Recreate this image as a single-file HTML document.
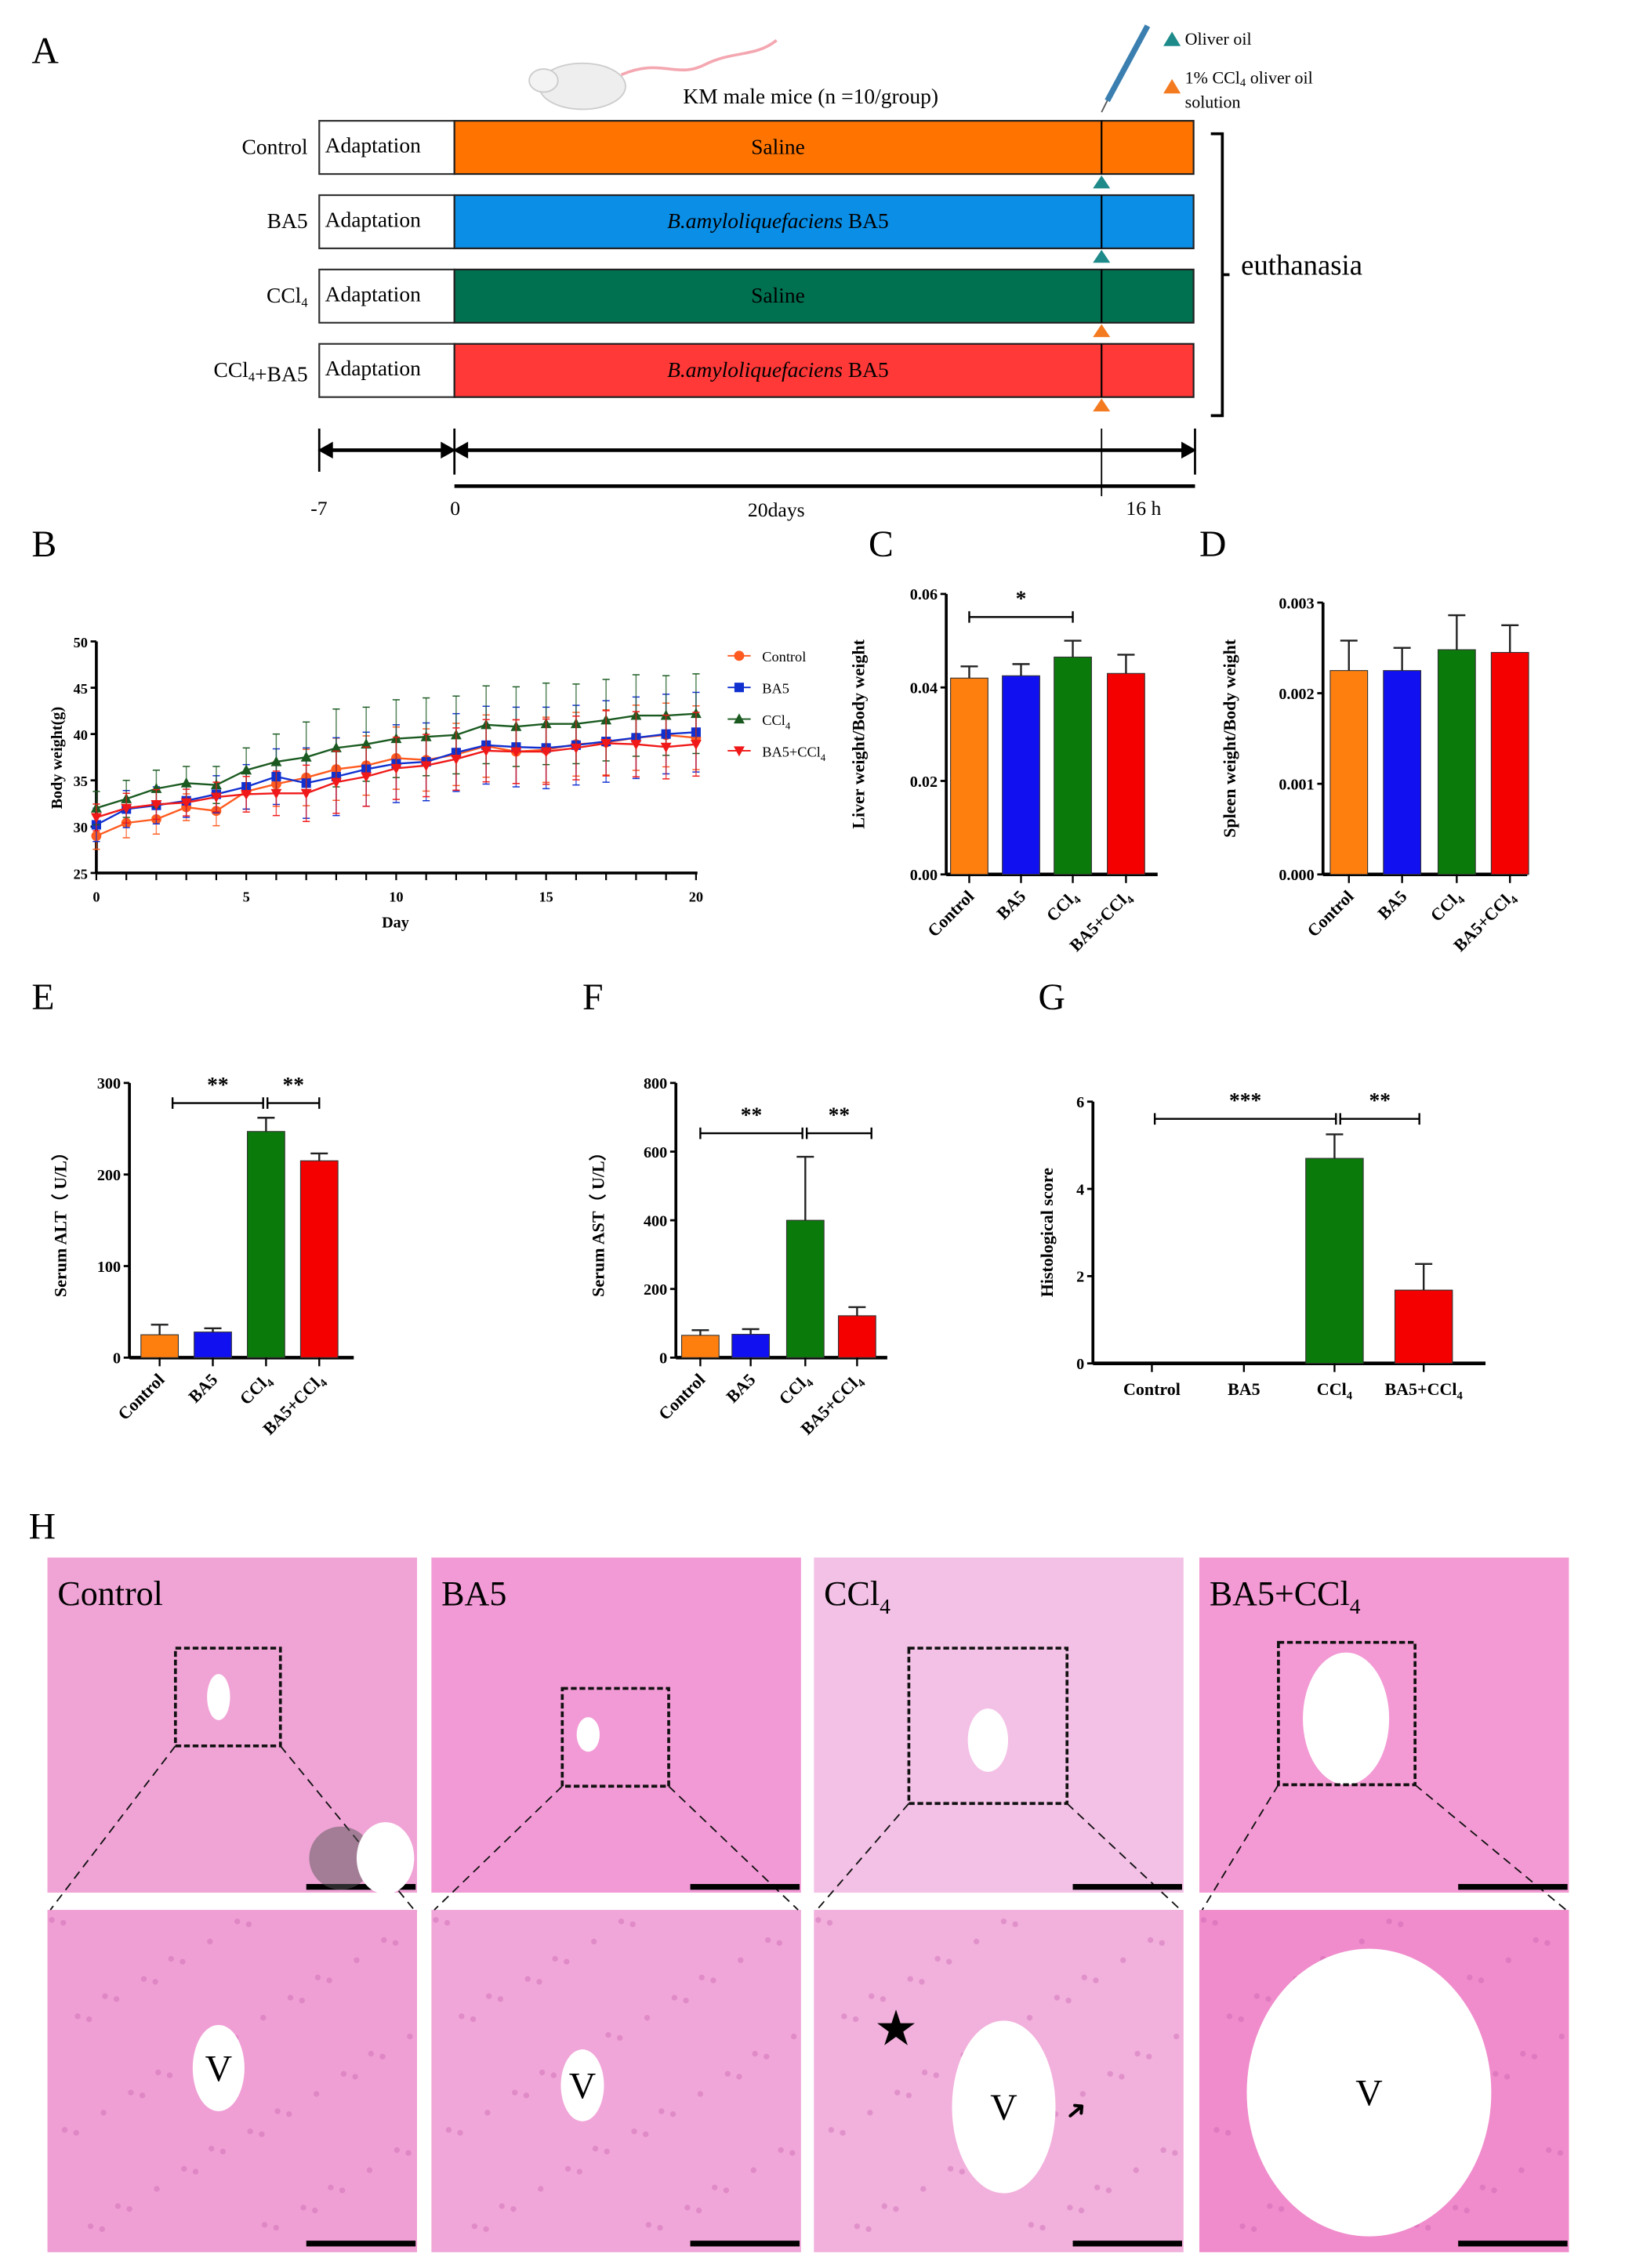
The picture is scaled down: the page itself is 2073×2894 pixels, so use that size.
<!DOCTYPE html>
<html><head><meta charset="utf-8"><style>
html,body{margin:0;padding:0;background:#fff;}
svg{display:block;font-family:"Liberation Serif",serif;}
</style></head><body>
<svg id="fig" width="2073" height="2894" viewBox="0 0 1130 1577" preserveAspectRatio="none" xmlns="http://www.w3.org/2000/svg">
<rect width="1130" height="1577" fill="#fff"/>
<!-- Panel A -->
<g>
<text x="22" y="44" font-size="26">A</text>
<g>
<ellipse cx="405" cy="60" rx="30" ry="16" fill="#eee" stroke="#ccc"/>
<ellipse cx="378" cy="56" rx="10" ry="8" fill="#f3f3f3" stroke="#ccc"/>
<path d="M432 52 C460 40 470 55 490 45 S525 40 540 28" stroke="#f4a7b0" stroke-width="2" fill="none"/>
</g>
<text x="475" y="72" font-size="15">KM male mice (n =10/group)</text>
<g>
<line x1="770" y1="70" x2="798" y2="18" stroke="#3a7fb0" stroke-width="4"/>
<line x1="770" y1="70" x2="766" y2="78" stroke="#555" stroke-width="1"/>
</g>
<polygon points="809,32 815,22 821,32" fill="#1f8a8a"/>
<text x="824" y="31" font-size="12">Oliver oil</text>
<polygon points="809,65 815,55 821,65" fill="#f47a20"/>
<text x="824" y="58" font-size="12">1% CCl<tspan font-size="8" dy="2">4</tspan><tspan dy="-2"> oliver oil</tspan></text>
<text x="824" y="75" font-size="12">solution</text>
<g id="groups"></g>
<path d="M842 93 H850 V289 H842" stroke="#000" stroke-width="2" fill="none"/>
<line x1="850" y1="191" x2="855" y2="191" stroke="#000" stroke-width="2"/>
<text x="863" y="191" font-size="20">euthanasia</text>
<g stroke="#000">
<line x1="222" y1="298" x2="222" y2="328" stroke-width="1.5"/>
<line x1="316" y1="298" x2="316" y2="330" stroke-width="1.5"/>
<line x1="831" y1="298" x2="831" y2="330" stroke-width="1.5"/>
<line x1="766" y1="298" x2="766" y2="345" stroke-width="1"/>
<line x1="225" y1="313" x2="313" y2="313" stroke-width="2.5"/>
<line x1="319" y1="313" x2="828" y2="313" stroke-width="2.5"/>
<line x1="316" y1="338" x2="831" y2="338" stroke-width="2.5"/>
<polygon points="222,313 231,308 231,318" fill="#000"/><polygon points="316,313 307,308 307,318" fill="#000"/>
<polygon points="316,313 325,308 325,318" fill="#000"/><polygon points="831,313 822,308 822,318" fill="#000"/>
</g>
<text x="216" y="358" font-size="14">-7</text>
<text x="313" y="358" font-size="14">0</text>
<text x="520" y="359" font-size="14">20days</text>
<text x="783" y="358" font-size="14">16 h</text>
</g>
<text x="22" y="387" font-size="26">B</text>
<text x="604" y="387" font-size="26">C</text>
<text x="834" y="387" font-size="26">D</text>
<text x="22" y="702" font-size="26">E</text>
<text x="405" y="702" font-size="26">F</text>
<text x="722" y="702" font-size="26">G</text>
<text x="20" y="1070" font-size="26">H</text>
<g id="lineB"></g>
<g id="barC"></g><g id="barD"></g><g id="barE"></g><g id="barF"></g><g id="barG"></g>
<g id="histo"></g>
</svg>
<script>
const NS="http://www.w3.org/2000/svg";
function mk(parent,tag,attrs,txt){const e=document.createElementNS(NS,tag);for(const k in attrs)e.setAttribute(k,attrs[k]);if(txt!==undefined)e.textContent=txt;parent.appendChild(e);return e;}

// Panel A groups
const aGroups=["Control","BA5","CCl4","CCl4+BA5"];
const aTreat=["Saline","B.amyloliquefaciens BA5","Saline","B.amyloliquefaciens BA5"];
const aColors=["#ff7400","#0a8ee6","#007150","#ff3838"];
const aTri=["#1f8a8a","#1f8a8a","#f47a20","#f47a20"];
const G=document.getElementById("groups");
aGroups.forEach((g,i)=>{
 const y=84+i*51.7;
 const row=mk(G,"g",{});
 
 
 const lab=mk(row,"text",{x:214,y:y+23,"font-size":15,"text-anchor":"end"});
 if(g.includes("CCl4")){lab.innerHTML=g.replace("CCl4","CCl<tspan font-size='9' dy='3'>4</tspan><tspan dy='-3'></tspan>");}else lab.textContent=g;
 mk(row,"rect",{x:222,y:y,width:94,height:37,fill:"#fff",stroke:"#333","stroke-width":1.2});
 mk(row,"text",{x:226,y:y+22,"font-size":15},"Adaptation");
 mk(row,"rect",{x:316,y:y,width:514,height:37,fill:aColors[i],stroke:"#222","stroke-width":1.2});
 mk(row,"line",{x1:766,y1:y,x2:766,y2:y+37,stroke:"#000","stroke-width":1.2});
 const t=mk(row,"text",{x:541,y:y+23,"font-size":15,"text-anchor":"middle"});
 if(aTreat[i].startsWith("B.")) t.innerHTML="<tspan font-style='italic'>B.amyloliquefaciens</tspan> BA5"; else t.textContent=aTreat[i];
 mk(row,"polygon",{points:`${760},${y+47} ${766},${y+38} ${772},${y+47}`,fill:aTri[i]});
});

// Panel B line chart
const bDays=[0,1,2,3,4,5,6,7,8,9,10,11,12,13,14,15,16,17,18,19,20];
const bControl=[29,30.4,30.8,32.1,31.7,33.8,34.6,35.3,36.2,36.6,37.4,37.2,37.8,38.7,38.1,38.3,38.9,39.1,39.6,39.9,39.6];
const bBA5=[30.2,31.9,32.3,32.8,33.5,34.3,35.4,34.7,35.4,36.2,36.8,37.0,38.0,38.8,38.6,38.5,38.8,39.2,39.6,40.0,40.2];
const bCCl4=[32,33,34.1,34.7,34.5,36.1,37,37.5,38.5,38.9,39.5,39.7,39.9,41,40.8,41.1,41.1,41.5,42,42,42.2];
const bBA5CCl4=[31,32,32.4,32.6,33.2,33.5,33.6,33.6,34.8,35.4,36.3,36.6,37.3,38.2,38.1,38.1,38.5,39,38.9,38.6,38.9];
const bErr=[1.8,2.0,2.0,1.8,2.0,2.4,3.0,3.8,4.2,4.0,4.2,4.2,4.2,4.2,4.3,4.4,4.3,4.4,4.4,4.3,4.3];
const bYTicks=[25,30,35,40,45,50];
const bXTicks=[0,5,10,15,20];
const bx=d=>67+d*(417/20), by=v=>607-(v-25)*(161/25);
const B=document.getElementById("lineB");
mk(B,"line",{x1:67,y1:607,x2:485,y2:607,stroke:"#000","stroke-width":2});
mk(B,"line",{x1:67,y1:446,x2:67,y2:607,stroke:"#000","stroke-width":2});
bYTicks.forEach(t=>{mk(B,"line",{x1:63,y1:by(t),x2:67,y2:by(t),stroke:"#000","stroke-width":1.5});
 const e=mk(B,"text",{x:61,y:by(t)+4,"font-size":10,"font-weight":"bold","text-anchor":"end"},t);
 });
bDays.forEach(d=>mk(B,"line",{x1:bx(d),y1:607,x2:bx(d),y2:612,stroke:"#000","stroke-width":1.2}));
bXTicks.forEach(t=>{const e=mk(B,"text",{x:bx(t),y:627,"font-size":10,"font-weight":"bold","text-anchor":"middle"},t);
 });
{const e=mk(B,"text",{x:275,y:645,"font-size":11,"font-weight":"bold","text-anchor":"middle"},"Day");}
{const e=mk(B,"text",{x:43,y:527,"font-size":11,"font-weight":"bold","text-anchor":"middle",transform:"rotate(-90 43 527)"},"Body weight(g)");}
const bSeries=[["Control",bControl,"#ff5a1f","circle",0.8],["BA5",bBA5,"#1030d0","square",1.0],["CCl4",bCCl4,"#1a5a20","tri",1.0],["BA5+CCl4",bBA5CCl4,"#f01818","tridown",0.8]];
function marker(g,type,x,y,c){
 if(type==="circle")mk(g,"circle",{cx:x,cy:y,r:3.5,fill:c});
 else if(type==="square")mk(g,"rect",{x:x-3.3,y:y-3.3,width:6.6,height:6.6,fill:c});
 else if(type==="tri")mk(g,"polygon",{points:`${x-3.8},${y+3} ${x},${y-4} ${x+3.8},${y+3}`,fill:c});
 else mk(g,"polygon",{points:`${x-3.8},${y-3} ${x},${y+4} ${x+3.8},${y-3}`,fill:c});
}
bSeries.forEach((s,si)=>{
 const g=mk(B,"g",{});
 
 
 s[1].forEach((v,i)=>{const e=bErr[i]*s[4];const x=bx(bDays[i]);
  mk(g,"line",{x1:x,y1:by(v-e),x2:x,y2:by(v+e),stroke:s[2],"stroke-width":0.8,opacity:0.75});
  mk(g,"line",{x1:x-2.5,y1:by(v+e),x2:x+2.5,y2:by(v+e),stroke:s[2],"stroke-width":0.8});
  mk(g,"line",{x1:x-2.5,y1:by(v-e),x2:x+2.5,y2:by(v-e),stroke:s[2],"stroke-width":0.8});});
 mk(g,"polyline",{points:s[1].map((v,i)=>bx(bDays[i])+","+by(v)).join(" "),fill:"none",stroke:s[2],"stroke-width":1.3});
 s[1].forEach((v,i)=>marker(g,s[3],bx(bDays[i]),by(v),s[2]));
 const ly=456+si*22;
 const lg=mk(B,"g",{});
 
 
 mk(lg,"line",{x1:506,y1:ly,x2:522,y2:ly,stroke:s[2],"stroke-width":1});
 marker(lg,s[3],514,ly,s[2]);
 const t=mk(lg,"text",{x:530,y:ly+4,"font-size":10});
 if(s[0].includes("CCl4"))t.innerHTML=s[0].replace("CCl4","CCl<tspan font-size='7' dy='3'>4</tspan>");else t.textContent=s[0];
});

// Bar chart helper
function barChart(id,o){
 const g=document.getElementById(id);
 const y=v=>o.y0-(v/o.ymax)*(o.y0-o.ytop);
 mk(g,"line",{x1:o.ax,y1:o.ytop,x2:o.ax,y2:o.y0,stroke:"#000","stroke-width":2});
 mk(g,"line",{x1:o.ax,y1:o.y0,x2:o.ax2,y2:o.y0,stroke:"#000","stroke-width":2.5});
 o.ticks.forEach((t,i)=>{mk(g,"line",{x1:o.ax-4,y1:y(t),x2:o.ax,y2:y(t),stroke:"#000","stroke-width":1.5});
  const e=mk(g,"text",{x:o.ax-6,y:y(t)+4,"font-size":11,"font-weight":"bold","text-anchor":"end"},o.tickLabels[i]);
  });
 const yt=mk(g,"text",{x:o.ylx,y:(o.y0+o.ytop)/2,"font-size":12,"font-weight":"bold","text-anchor":"middle",transform:`rotate(-90 ${o.ylx} ${(o.y0+o.ytop)/2})`},o.ylabel);
 
 o.vals.forEach((v,i)=>{const cx=o.cx[i];
  const b=mk(g,"rect",{x:cx-o.bw/2,y:y(v),width:o.bw,height:o.y0-y(v),fill:o.colors[i],stroke:"#333","stroke-width":0.6});
  
  if(o.errs[i]>0){mk(g,"line",{x1:cx,y1:y(v),x2:cx,y2:y(v+o.errs[i]),stroke:"#222","stroke-width":1.3});
   mk(g,"line",{x1:cx-6,y1:y(v+o.errs[i]),x2:cx+6,y2:y(v+o.errs[i]),stroke:"#222","stroke-width":1.3});}
  mk(g,"line",{x1:cx,y1:o.y0,x2:cx,y2:o.y0+6,stroke:"#000","stroke-width":1.3});
  let lab=o.cats[i].replace("CCl4","CCl<tspan font-size='8' dy='3'>4</tspan>");
  const t=mk(g,"text",{"font-size":12,"font-weight":"bold"});
  if(o.rot){t.setAttribute("x",cx+4);t.setAttribute("y",o.y0+16);t.setAttribute("text-anchor","end");t.setAttribute("transform",`rotate(-45 ${cx+4} ${o.y0+16})`);}
  else{t.setAttribute("x",cx);t.setAttribute("y",o.y0+22);t.setAttribute("text-anchor","middle");}
  t.innerHTML=lab;
  
 });
 (o.sig||[]).forEach(s=>{const ly=s[3];
  mk(g,"line",{x1:s[0],y1:ly,x2:s[1],y2:ly,stroke:"#000","stroke-width":1.3});
  mk(g,"line",{x1:s[0],y1:ly-4,x2:s[0],y2:ly+4,stroke:"#000","stroke-width":1.3});
  mk(g,"line",{x1:s[1],y1:ly-4,x2:s[1],y2:ly+4,stroke:"#000","stroke-width":1.3});
  const e=mk(g,"text",{x:(s[0]+s[1])/2,y:ly-8,"font-size":15,"font-weight":"bold","text-anchor":"middle"},s[2]);
  });
}
const col4=["#ff7f0e","#1010f0","#0a7a0a","#f40000"];
const cCats=["Control","BA5","CCl4","BA5+CCl4"];
const cVals=[0.042,0.0425,0.0465,0.043];
const cErrs=[0.0025,0.0025,0.0035,0.004];
const cTicks=[0,0.02,0.04,0.06];
const cTickLabels=["0.00","0.02","0.04","0.06"];
barChart("barC",{ax:658,ax2:805,y0:608,ytop:413,ymax:0.06,ticks:cTicks,tickLabels:cTickLabels,ylabel:"Liver weight/Body weight",ylx:601,cats:cCats,vals:cVals,errs:cErrs,cx:[674,710,746,783],bw:26,colors:col4,rot:true,sig:[[674,746,"*",429]]});
const dVals=[0.00225,0.00225,0.00248,0.00245];
const dErrs=[0.00033,0.00025,0.00038,0.0003];
const dTicks=[0,0.001,0.002,0.003];
const dTickLabels=["0.000","0.001","0.002","0.003"];
barChart("barD",{ax:920,ax2:1062,y0:608,ytop:419,ymax:0.003,ticks:dTicks,tickLabels:dTickLabels,ylabel:"Spleen weight/Body weight",ylx:859,cats:cCats,vals:dVals,errs:dErrs,cx:[938,975,1013,1050],bw:26,colors:col4,rot:true});
const eVals=[25,28,247,215];
const eErrs=[11,4,15,8];
const eTicks=[0,100,200,300];
barChart("barE",{ax:90,ax2:246,y0:944,ytop:753,ymax:300,ticks:eTicks,tickLabels:eTicks,ylabel:"Serum ALT（ U/L）",ylx:46,cats:cCats,vals:eVals,errs:eErrs,cx:[111,148,185,222],bw:26,colors:col4,rot:true,sig:[[120,183,"**",767],[186,222,"**",767]]});
const fVals=[65,68,400,122];
const fErrs=[15,15,185,25];
const fTicks=[0,200,400,600,800];
barChart("barF",{ax:470,ax2:617,y0:944,ytop:753,ymax:800,ticks:fTicks,tickLabels:fTicks,ylabel:"Serum AST（ U/L）",ylx:420,cats:cCats,vals:fVals,errs:fErrs,cx:[487,522,560,596],bw:26,colors:col4,rot:true,sig:[[487,558,"**",788],[561,606,"**",788]]});
const gVals=[0,0,4.7,1.68];
const gErrs=[0,0,0.55,0.6];
const gTicks=[0,2,4,6];
barChart("barG",{ax:760,ax2:1033,y0:948,ytop:766,ymax:6,ticks:gTicks,tickLabels:gTicks,ylabel:"Histological score",ylx:732,cats:cCats,vals:gVals,errs:gErrs,cx:[801,865,928,990],bw:40,colors:col4,rot:false,sig:[[803,929,"***",778],[932,987,"**",778]]});

// Panel H histology
const hNames=["Control","BA5","CCl4","BA5+CCl4"];
const hX=[33,300,566,834];
const hTop=["#f0a4d6","#f29ad6","#f3c0e6","#f39ad4"];
const hBot=["#ef9fd4","#f0a6d8","#f2b0dc","#f08ccc"];
const hBox=[[122,1146,73,68],[391,1174,74,68],[632,1146,110,108],[889,1142,95,99]];
const hVein=[[152,1180,8,16],[409,1206,8,12],[687,1210,14,22],[936,1195,30,46]];
const hVeinB=[[152,1438,18,30],[405,1450,15,25],[698,1465,36,60],[952,1455,85,100]];
const H=document.getElementById("histo");
hNames.forEach((n,i)=>{
 const x=hX[i];
 const gp=mk(H,"g",{});
 
 
 mk(gp,"rect",{x:x,y:1083,width:257,height:233,fill:hTop[i]});
 mk(gp,"rect",{x:x,y:1328,width:257,height:238,fill:hBot[i]});
 for(let k=0;k<60;k++){const px=x+((k*37)%250)+3,py=1335+((k*53)%225);mk(gp,"circle",{cx:px,cy:py,r:2,fill:"#c45aa8",opacity:0.35});}
 const v=hVein[i];mk(gp,"ellipse",{cx:v[0],cy:v[1],rx:v[2],ry:v[3],fill:"#fff"});
 const vb=hVeinB[i];mk(gp,"ellipse",{cx:vb[0],cy:vb[1],rx:vb[2],ry:vb[3],fill:"#fff"});
 mk(gp,"text",{x:vb[0],y:vb[1]+9,"font-size":26,"text-anchor":"middle"},"V");
 const b=hBox[i];mk(gp,"rect",{x:b[0],y:b[1],width:b[2],height:b[3],fill:"none",stroke:"#111","stroke-width":2,"stroke-dasharray":"4 2"});
 mk(gp,"line",{x1:b[0],y1:b[1]+b[3],x2:x+2,y2:1328,stroke:"#111","stroke-width":1,"stroke-dasharray":"6 4"});
 mk(gp,"line",{x1:b[0]+b[2],y1:b[1]+b[3],x2:x+255,y2:1328,stroke:"#111","stroke-width":1,"stroke-dasharray":"6 4"});
 mk(gp,"rect",{x:x+180,y:1310,width:76,height:4,fill:"#000"});
 mk(gp,"rect",{x:x+180,y:1558,width:76,height:4,fill:"#000"});
 const t=mk(gp,"text",{x:x+7,y:1116,"font-size":24});
 t.innerHTML=n.replace("CCl4","CCl<tspan font-size='15' dy='6'>4</tspan>");
});
mk(H,"ellipse",{cx:237,cy:1292,rx:22,ry:22,fill:"#555",opacity:0.5});
mk(H,"ellipse",{cx:268,cy:1292,rx:20,ry:25,fill:"#fff"});
mk(H,"text",{x:623,y:1422,"font-size":34,"text-anchor":"middle"},"★");
mk(H,"text",{x:752,y:1472,"font-size":18,"text-anchor":"middle",transform:"rotate(-40 752 1472)"},"➜");
</script>
</body></html>
